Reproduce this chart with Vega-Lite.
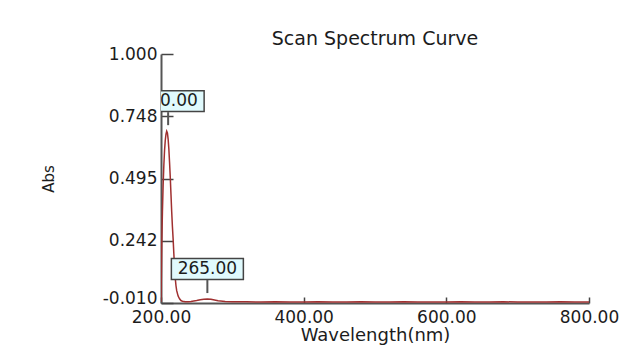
{
  "$schema": "https://vega.github.io/schema/vega-lite/v6.json",
  "autosize": "none",
  "width": 428,
  "height": 249,
  "padding": {"left": 161, "top": 54, "right": 45, "bottom": 50},
  "background": "white",
  "title": {"text": "Scan Spectrum Curve", "font": "DejaVu Sans", "fontSize": 19, "fontWeight": "normal", "color": "#1c1c1c", "offset": -4, "anchor": "middle"},
  "config": {"view": {"stroke": null}},
  "datasets": {
    "spectrum": [
      {"nm": 200, "abs": -0.005}, {"nm": 201, "abs": 0.22}, {"nm": 202, "abs": 0.36}, {"nm": 203, "abs": 0.47},
      {"nm": 204, "abs": 0.55}, {"nm": 205, "abs": 0.61}, {"nm": 206, "abs": 0.65}, {"nm": 207, "abs": 0.675},
      {"nm": 208, "abs": 0.687}, {"nm": 209, "abs": 0.68}, {"nm": 210, "abs": 0.655}, {"nm": 211, "abs": 0.615},
      {"nm": 212, "abs": 0.56}, {"nm": 213, "abs": 0.5}, {"nm": 214, "abs": 0.43}, {"nm": 215, "abs": 0.36},
      {"nm": 216, "abs": 0.3}, {"nm": 217, "abs": 0.25}, {"nm": 218, "abs": 0.19}, {"nm": 219, "abs": 0.135},
      {"nm": 220, "abs": 0.09}, {"nm": 221, "abs": 0.06}, {"nm": 222, "abs": 0.04}, {"nm": 224, "abs": 0.018},
      {"nm": 226, "abs": 0.007}, {"nm": 228, "abs": 0.0}, {"nm": 230, "abs": -0.003}, {"nm": 234, "abs": -0.005},
      {"nm": 238, "abs": -0.005}, {"nm": 242, "abs": -0.004}, {"nm": 246, "abs": -0.002}, {"nm": 250, "abs": 0.0},
      {"nm": 255, "abs": 0.003}, {"nm": 260, "abs": 0.005}, {"nm": 265, "abs": 0.006}, {"nm": 270, "abs": 0.005},
      {"nm": 275, "abs": 0.002}, {"nm": 280, "abs": -0.001}, {"nm": 290, "abs": -0.004}, {"nm": 300, "abs": -0.005},
      {"nm": 320, "abs": -0.005}, {"nm": 340, "abs": -0.006}, {"nm": 360, "abs": -0.005}, {"nm": 380, "abs": -0.006},
      {"nm": 400, "abs": -0.006}, {"nm": 420, "abs": -0.005}, {"nm": 440, "abs": -0.006}, {"nm": 460, "abs": -0.006},
      {"nm": 480, "abs": -0.005}, {"nm": 500, "abs": -0.006}, {"nm": 520, "abs": -0.006}, {"nm": 540, "abs": -0.005},
      {"nm": 560, "abs": -0.006}, {"nm": 580, "abs": -0.006}, {"nm": 600, "abs": -0.006}, {"nm": 620, "abs": -0.005},
      {"nm": 640, "abs": -0.006}, {"nm": 660, "abs": -0.006}, {"nm": 680, "abs": -0.005}, {"nm": 700, "abs": -0.006},
      {"nm": 720, "abs": -0.006}, {"nm": 740, "abs": -0.006}, {"nm": 760, "abs": -0.005}, {"nm": 780, "abs": -0.006},
      {"nm": 800, "abs": -0.006}
    ],
    "peaks": [
      {"nm": 210, "abs": 0.687, "label": "210.00"},
      {"nm": 265, "abs": 0.006, "label": "265.00"}
    ]
  },
  "encoding": {
    "x": {
      "field": "nm", "type": "quantitative",
      "scale": {"domain": [200, 800], "nice": false, "zero": false},
      "axis": {
        "title": "Wavelength(nm)", "values": [200, 400, 600, 800], "format": ".2f",
        "grid": false, "domainColor": "#555555", "domainWidth": 2, "tickColor": "#444444", "tickWidth": 1.5, "tickSize": -6,
        "labelFont": "DejaVu Sans", "labelFontSize": 17, "labelColor": "#1c1c1c", "labelPadding": 12, "labelFlush": false,
        "titleFont": "DejaVu Sans", "titleFontSize": 18, "titleFontWeight": "normal", "titleColor": "#1c1c1c", "titlePadding": 1
      }
    },
    "y": {
      "field": "abs", "type": "quantitative",
      "scale": {"domain": [-0.01, 1.0], "nice": false, "zero": false},
      "axis": {
        "title": "Abs", "values": [-0.01, 0.242, 0.495, 0.748, 1.0],
        "labelExpr": "replace(format(datum.value, '.3f'), '\u2212', '-')",
        "grid": false, "domainColor": "#555555", "domainWidth": 2, "tickColor": "#444444", "tickWidth": 1.5, "tickSize": -12,
        "labelFont": "DejaVu Sans", "labelFontSize": 17, "labelColor": "#1c1c1c", "labelPadding": 16, "labelFlush": false,
        "labelBaseline": {"condition": {"test": "datum.value < 0", "value": "alphabetic"}, "value": "middle"},
        "titleFont": "DejaVu Sans", "titleFontSize": 15, "titleFontWeight": "normal", "titleColor": "#1c1c1c", "titlePadding": 46
      }
    }
  },
  "layer": [
    {
      "data": {"name": "spectrum"},
      "mark": {"type": "line", "color": "#a03030", "strokeWidth": 1.5, "clip": true}
    },
    {
      "data": {"name": "peaks"},
      "mark": {"type": "rule", "color": "#555555", "strokeWidth": 2, "yOffset": -6, "y2Offset": -19},
      "encoding": {"y2": {"field": "abs"}}
    },
    {
      "data": {"name": "peaks"},
      "mark": {"type": "point", "shape": "M-1,-0.29H1V0.29H-1Z", "size": 5184, "filled": true, "fill": "#e0fafd", "stroke": "#444444", "strokeWidth": 1.5, "opacity": 1, "fillOpacity": 1, "yOffset": -30, "clip": true}
    },
    {
      "data": {"name": "peaks"},
      "mark": {"type": "text", "font": "DejaVu Sans", "fontSize": 17, "color": "#1c1c1c", "yOffset": -30, "baseline": "middle", "align": "center", "clip": true},
      "encoding": {"text": {"field": "label"}}
    }
  ]
}
